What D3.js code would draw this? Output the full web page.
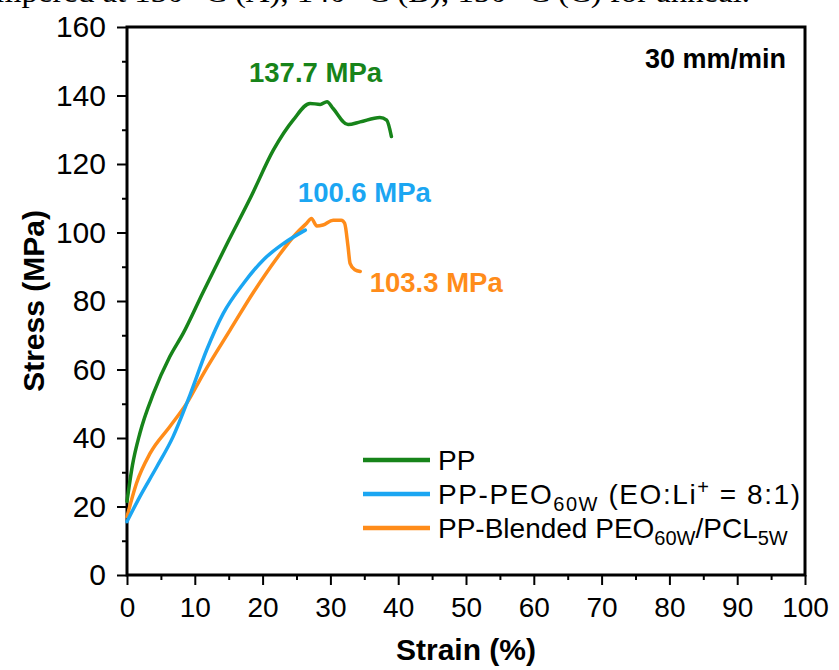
<!DOCTYPE html>
<html>
<head>
<meta charset="utf-8">
<script src="https://cdn.jsdelivr.net/npm/d3@7"></script>
<style>
  body { margin: 0; background: #fff; }
  svg { display: block; font-family: "Liberation Sans", Arial, sans-serif; }
</style>
</head>
<body>
<div id="chart"></div>
<script>
// strain (%) / stress (MPa)
var ppStrain = [0, 0.8, 1.9, 3.9, 6.3, 8.3, 11.2, 14.7, 18.3, 21.6, 24.5, 27.0, 28.5, 29.5, 30.4, 32.6, 34.4, 37.3, 38.3, 39.0];
var ppStress = [21.5, 32, 41.4, 53.0, 63.7, 70.6, 82.5, 96.5, 110.5, 124.1, 132.8, 137.7, 137.4, 138.2, 136.2, 131.5, 132.3, 133.6, 132.8, 128.0];

var peoStrain = [0, 1.9, 4.4, 6.8, 9.3, 11.75, 14.2, 17.2, 20.1, 23.1, 26.3];
var peoStress = [15.6, 22.9, 31.6, 40.4, 52.6, 65.7, 76.4, 85.2, 92.0, 96.8, 100.7];

var blendStrain = [0, 1.4, 3.4, 6.3, 8.8, 11.3, 15.2, 18.7, 22.1, 25.0, 26.5, 27.2, 28.0, 28.9, 30.4, 31.6, 32.1, 32.6, 32.9, 33.6, 34.4];
var blendStress = [17.0, 26.8, 35.5, 43.3, 50.1, 58.9, 71.5, 82.7, 92.5, 99.8, 102.7, 104.1, 101.9, 102.2, 103.6, 103.6, 102.7, 95.9, 91.0, 89.1, 88.6];

var seriesNames = ["PP", "PP-PEO", "PP-Blended"];
var colors = {
  'PP': '#17841a',
  'PP-PEO': '#1ba6f2',
  'PP-Blended': '#ff8c1a'
};

var xTicks = [0, 10, 20, 30, 40, 50, 60, 70, 80, 90, 100];
var yTicks = [0, 20, 40, 60, 80, 100, 120, 140, 160];

// peak labels: text, strain, stress (anchor positions in data units)
var peakLabels = [
  { text: "137.7 MPa", x: 18.0, y: 143.9, series: "PP" },
  { text: "100.6 MPa", x: 25.2, y: 108.9, series: "PP-PEO" },
  { text: "103.3 MPa", x: 35.8, y: 82.6, series: "PP-Blended" }
];

var width = 839, height = 670;
var svg = d3.select("#chart").append("svg")
  .attr("width", width)
  .attr("height", height);

// clipped caption line from the page above
svg.append("text")
  .attr("x", -4)
  .attr("y", 2)
  .attr("textLength", 754)
  .attr("lengthAdjust", "spacingAndGlyphs")
  .style("font-family", "'Liberation Serif', 'Times New Roman', serif")
  .style("font-size", "30px")
  .text("mpered at 130 °C (A), 140 °C (B), 150 °C (C) for anneal.");

var x = d3.scaleLinear().domain([0, 100]).range([127, 805]);
var y = d3.scaleLinear().domain([0, 160]).range([575, 27]);

// minor ticks
svg.append("g")
  .attr("transform", "translate(0," + y(0) + ")")
  .call(d3.axisBottom(x).tickValues(d3.range(5, 100, 10)).tickSize(5).tickFormat(""))
  .call(function(g) { g.select(".domain").remove(); })
  .selectAll("line").attr("stroke-width", 2);
svg.append("g")
  .attr("transform", "translate(" + x(0) + ",0)")
  .call(d3.axisLeft(y).tickValues(d3.range(10, 160, 20)).tickSize(5).tickFormat(""))
  .call(function(g) { g.select(".domain").remove(); })
  .selectAll("line").attr("stroke-width", 2);

// major ticks + labels
var xAxis = svg.append("g")
  .attr("transform", "translate(0," + y(0) + ")")
  .call(d3.axisBottom(x).tickValues(xTicks).tickSize(10).tickPadding(12));
xAxis.select(".domain").remove();
xAxis.selectAll("line").attr("stroke-width", 2);
xAxis.selectAll("text")
  .style("font-family", "'Liberation Sans', Arial, sans-serif")
  .style("font-size", "28px")
  .attr("fill", "#000");

var yAxis = svg.append("g")
  .attr("transform", "translate(" + x(0) + ",0)")
  .call(d3.axisLeft(y).tickValues(yTicks).tickSize(10).tickPadding(11));
yAxis.select(".domain").remove();
yAxis.selectAll("line").attr("stroke-width", 2);
yAxis.selectAll("text")
  .style("font-family", "'Liberation Sans', Arial, sans-serif")
  .style("font-size", "30px")
  .attr("fill", "#000");

// frame
svg.append("rect")
  .attr("x", x(0)).attr("y", y(160))
  .attr("width", x(100) - x(0)).attr("height", y(0) - y(160))
  .attr("fill", "none").attr("stroke", "#000").attr("stroke-width", 3);

// axis titles
svg.append("text")
  .attr("x", (x(0) + x(100)) / 2)
  .attr("y", 660)
  .attr("text-anchor", "middle")
  .style("font-weight", "bold")
  .style("font-size", "30px")
  .text("Strain (%)");
svg.append("text")
  .attr("transform", "translate(44," + (y(0) + y(160)) / 2 + ") rotate(-90)")
  .attr("text-anchor", "middle")
  .style("font-weight", "bold")
  .style("font-size", "30px")
  .text("Stress (MPa)");

// curves
var line = d3.line()
  .x(function(d) { return x(d[0]); })
  .y(function(d) { return y(d[1]); })
  .curve(d3.curveMonotoneX);

var curves = [
  { name: "PP", pts: d3.zip(ppStrain, ppStress) },
  { name: "PP-PEO", pts: d3.zip(peoStrain, peoStress) },
  { name: "PP-Blended", pts: d3.zip(blendStrain, blendStress) }
];
// draw order: blended under PEO as in the picture
[curves[2], curves[1], curves[0]].forEach(function(c) {
  svg.append("path")
    .datum(c.pts)
    .attr("fill", "none")
    .attr("stroke", colors[c.name])
    .attr("stroke-width", 3.5)
    .attr("stroke-linejoin", "round")
    .attr("stroke-linecap", "round")
    .attr("d", line);
});

// peak labels
svg.selectAll(".peak")
  .data(peakLabels)
  .enter().append("text")
  .attr("class", "peak")
  .attr("x", function(d) { return x(d.x); })
  .attr("y", function(d) { return y(d.y); })
  .attr("fill", function(d) { return colors[d.series]; })
  .style("font-weight", "bold")
  .style("font-size", "27.5px")
  .text(function(d) { return d.text; });

svg.append("text")
  .attr("x", 786).attr("y", 68)
  .attr("text-anchor", "end")
  .style("font-weight", "bold")
  .style("font-size", "27px")
  .text("30 mm/min");

// legend
var legend = svg.append("g").attr("transform", "translate(363,460)");
var legendRows = legend.selectAll("g")
  .data(seriesNames)
  .enter().append("g")
  .attr("transform", function(d, i) { return "translate(0," + i * 34 + ")"; });
legendRows.append("line")
  .attr("x1", 0).attr("x2", 67)
  .attr("stroke", function(d) { return colors[d]; })
  .attr("stroke-width", 4.5);

var legendText = legendRows.append("text")
  .attr("x", 75).attr("y", 10)
  .style("font-size", "28px");
function addParts(sel, parts) {
  parts.forEach(function(p) {
    var t = sel.append("tspan").text(p[0]);
    if (p[1] == "sub") t.attr("dy", 7).style("font-size", "20px");
    if (p[1] == "sup") t.attr("dy", -10).style("font-size", "20px");
    if (p[1] == "back") t.attr("dy", -7);
    if (p[1] == "down") t.attr("dy", 10);
  });
}
addParts(d3.select(legendText.nodes()[0]), [["PP"]]);
addParts(d3.select(legendText.nodes()[1]), [["PP-PEO"], ["60W", "sub"], [" (EO:Li", "back"], ["+", "sup"], [" = 8:1)", "down"]]);
addParts(d3.select(legendText.nodes()[2]), [["PP-Blended PEO"], ["60W", "sub"], ["/PCL", "back"], ["5W", "sub"]]);
d3.select(legendText.nodes()[1]).attr("textLength", 362).attr("lengthAdjust", "spacing");
</script>
</body>
</html>
